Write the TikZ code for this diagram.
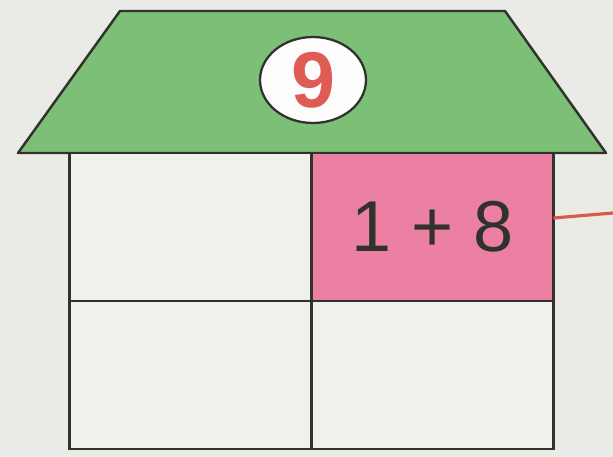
\documentclass[tikz,border=0pt]{standalone}
\usepackage{fontspec}
\setmainfont{Liberation Sans}
\usetikzlibrary{shapes.geometric, positioning}

\definecolor{paper}{RGB}{234,234,230}
\definecolor{roofgreen}{RGB}{124,192,120}
\definecolor{cellpink}{RGB}{236,128,164}
\definecolor{ninered}{RGB}{222,92,84}
\definecolor{wirered}{RGB}{214,92,72}
\definecolor{ink}{RGB}{50,50,45}

\begin{document}
\begin{tikzpicture}[
    x=0.02cm, y=-0.02cm,
    node distance=0pt,
    cell/.style={rectangle, draw=ink, line width=1.4pt, fill=paper!70!white, minimum width=4.84cm, minimum height=2.96cm, inner sep=0pt, outer sep=0pt},
    sum/.style={cell, fill=cellpink, text=ink, font=\fontsize{41}{41}\selectfont},
    badge/.style={ellipse, draw=ink, line width=1.3pt, fill=white!92!paper, text=ninered, minimum width=2.12cm, minimum height=1.72cm, inner sep=0pt, font=\fontsize{45}{45}\selectfont\bfseries},
    roof/.style={draw=ink, line width=1.4pt, fill=roofgreen, line join=round},
    wire/.style={draw=wirered, line width=1.8pt}
]
% Background
\fill[paper] (0,0) rectangle (613,457);
\useasboundingbox (0,0) rectangle (613,457);

% Roof
\draw[roof] (18,153) -- (120,11) -- (505,11) -- (606,153) -- cycle;
\node[badge] (nine) at (313,80) {9};

% Rooms
\node[cell] (tl) at (190.5,227) {};
\node[sum, right=of tl] (tr) {1 + 8};
\node[cell, below=of tl] (bl) {};
\node[cell, right=of bl] (br) {};

% Connections
\coordinate (edge) at (613,213);
\draw[wire] ([yshift=0.18cm]tr.east) -- (edge);
\end{tikzpicture}
\end{document}
